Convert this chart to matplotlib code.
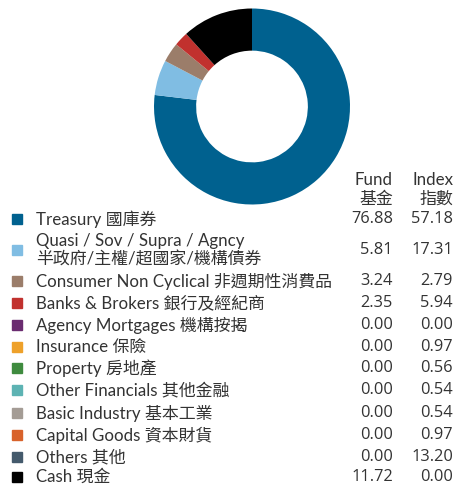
import matplotlib
matplotlib.use("Agg")
import matplotlib.pyplot as plt
from matplotlib.patches import Rectangle

categories = [
    "Treasury 國庫券",
    "Quasi / Sov / Supra / Agncy\n半政府/主權/超國家/機構債券",
    "Consumer Non Cyclical 非週期性消費品",
    "Banks & Brokers 銀行及經紀商",
    "Agency Mortgages 機構按揭",
    "Insurance 保險",
    "Property 房地產",
    "Other Financials 其他金融",
    "Basic Industry 基本工業",
    "Capital Goods 資本財貨",
    "Others 其他",
    "Cash 現金",
]
fund = [76.88, 5.81, 3.24, 2.35, 0.00, 0.00, 0.00, 0.00, 0.00, 0.00, 0.00, 11.72]
index = [57.18, 17.31, 2.79, 5.94, 0.00, 0.97, 0.56, 0.54, 0.54, 0.97, 13.20, 0.00]
colors = ["#00618f", "#80bde3", "#9b7d6a", "#c1312e", "#6a2c70", "#eea12a",
          "#3f8b3f", "#5db3b3", "#a49c95", "#d8622b", "#445a6c", "#000000"]
col_headers = ["Fund\n基金", "Index\n指數"]

W, H = 454, 484
fig = plt.figure(figsize=(W / 100, H / 100), dpi=100)
FAM = ["Lato", "Noto Sans CJK TC", "DejaVu Sans"]
NUMFAM = ["Open Sans", "DejaVu Sans"]
TXT = "#333333"

# donut
cx, cy, r = 252, 106.5, 98
ax = fig.add_axes([(cx - r) / W, 1 - (cy + r) / H, 2 * r / W, 2 * r / H])
vals = [v for v in fund if v > 0]
cols = [c for v, c in zip(fund, colors) if v > 0]
ax.pie(vals, colors=cols, startangle=90, counterclock=False, radius=1,
       wedgeprops=dict(width=0.43, linewidth=0))
ax.set_xlim(-1, 1)
ax.set_ylim(-1, 1)
ax.set_aspect("equal")
ax.axis("off")

def fy(y):
    return 1 - y / H

def fx(x):
    return x / W

fs = 12.2
# headers
for xr, hdr in zip([393, 453], col_headers):
    top, bot = hdr.split("\n")
    fig.text(fx(xr), fy(180), top, ha="right", va="center", fontsize=fs,
             family=FAM, color=TXT)
    fig.text(fx(xr), fy(199), bot, ha="right", va="center", fontsize=fs,
             family=FAM, color=TXT)

row_y = [219, 250, 281, 303, 325, 347, 368, 390, 413, 435, 457, 477]
for name, f, i, c, y in zip(categories, fund, index, colors, row_y):
    fig.patches.append(Rectangle((fx(12), fy(y + 5)), 10 / W, 10 / H,
                                 transform=fig.transFigure, color=c, figure=fig))
    lines = name.split("\n")
    if len(lines) == 1:
        fig.text(fx(36), fy(y), name, ha="left", va="center", fontsize=fs,
                 family=FAM, color=TXT)
    else:
        fig.text(fx(36), fy(y - 9), lines[0], ha="left", va="center", fontsize=fs,
                 family=FAM, color=TXT)
        fig.text(fx(36), fy(y + 9), lines[1], ha="left", va="center", fontsize=fs,
                 family=FAM, color=TXT)
    fig.text(fx(393), fy(y), f"{f:.2f}", ha="right", va="center", fontsize=11.8,
             family=NUMFAM, color=TXT)
    fig.text(fx(453), fy(y), f"{i:.2f}", ha="right", va="center", fontsize=11.8,
             family=NUMFAM, color=TXT)

fig.savefig("out.png", dpi=100)
